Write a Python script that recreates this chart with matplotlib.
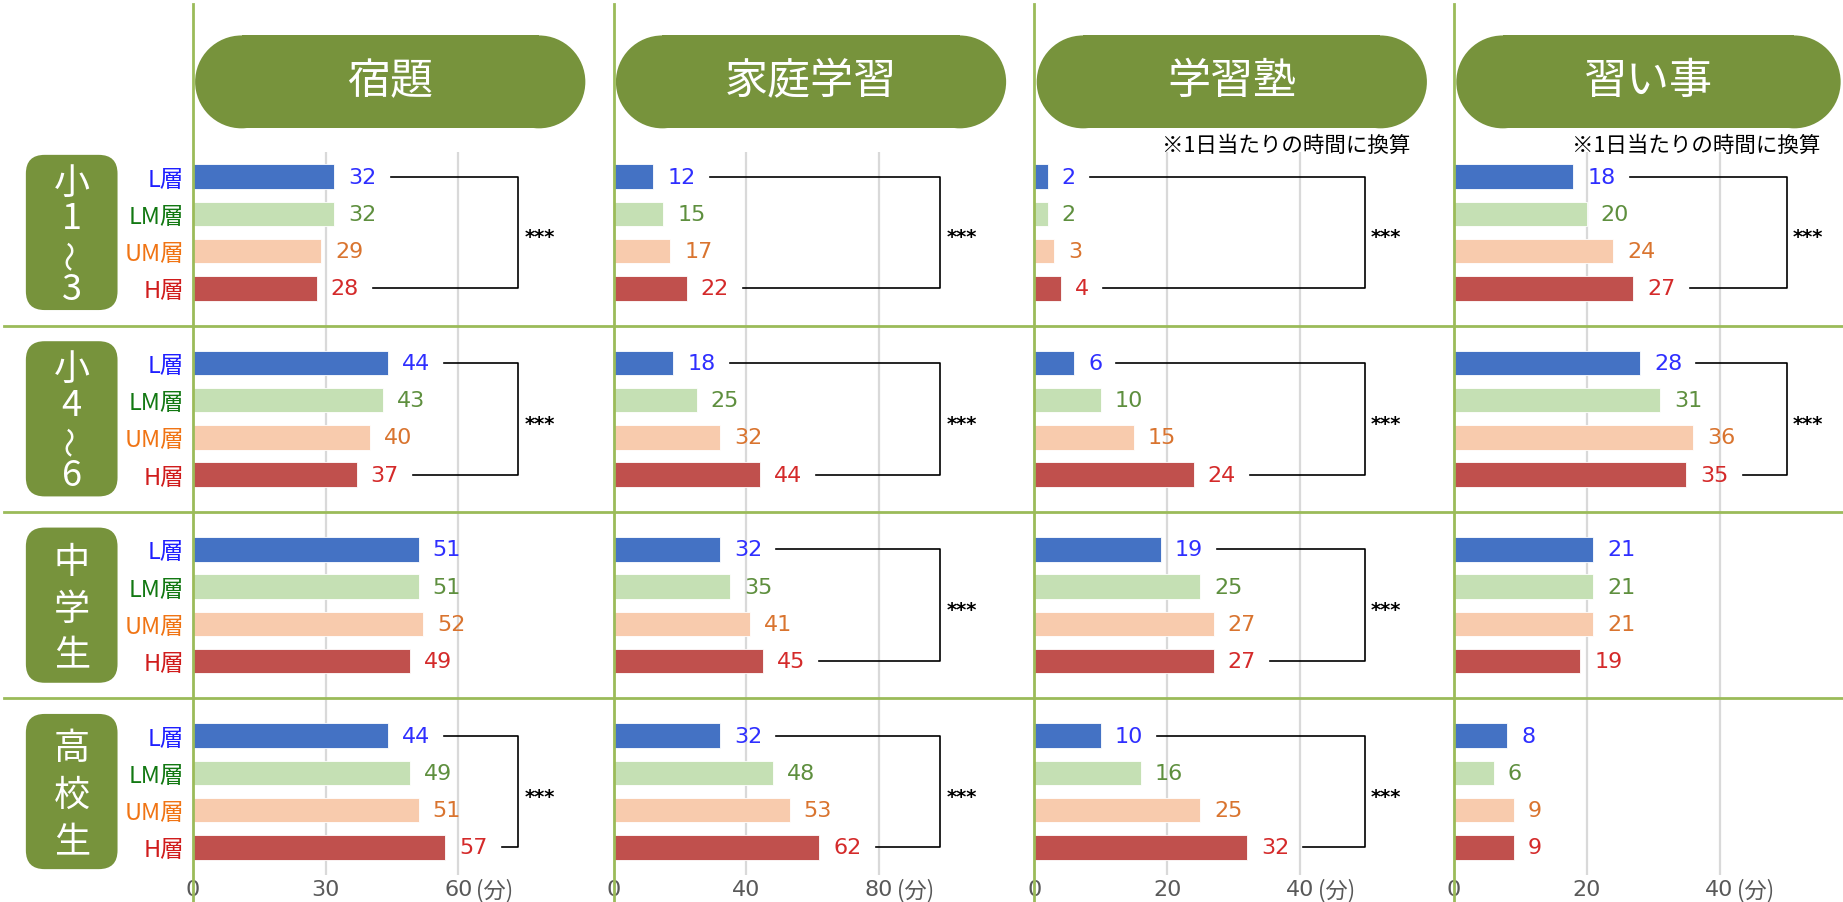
import matplotlib
matplotlib.use("Agg")
import matplotlib.pyplot as plt
from matplotlib.patches import FancyBboxPatch, Rectangle, Circle

plt.rcParams["font.family"] = ["Noto Sans CJK JP", "DejaVu Sans"]
NUM_FONT = ["DejaVu Sans"]

# ---- data ----
activities = ["宿題", "家庭学習", "学習塾", "習い事"]
grades = ["小1~3", "小4~6", "中学生", "高校生"]
layers = ["L層", "LM層", "UM層", "H層"]

homework = [[32, 32, 29, 28], [44, 43, 40, 37], [51, 51, 52, 49], [44, 49, 51, 57]]
home_study = [[12, 15, 17, 22], [18, 25, 32, 44], [32, 35, 41, 45], [32, 48, 53, 62]]
cram_school = [[2, 2, 3, 4], [6, 10, 15, 24], [19, 25, 27, 27], [10, 16, 25, 32]]
lessons = [[18, 20, 24, 27], [28, 31, 36, 35], [21, 21, 21, 19], [8, 6, 9, 9]]
values = [homework, home_study, cram_school, lessons]

# significance (***) per activity and grade
significant = [
    [True, True, False, True],
    [True, True, True, True],
    [True, True, True, True],
    [True, True, False, False],
]

tick_steps = [30, 40, 20, 20]
notes = [None, None, "※1日当たりの時間に換算", "※1日当たりの時間に換算"]

# ---- style ----
bar_colors = ["#4472C4", "#C5E0B4", "#F8CBAD", "#C0504D"]
value_colors = ["#2F2FFF", "#5E8F3E", "#D9742F", "#D42A2A"]
layer_colors = ["#1F1FFF", "#127812", "#F07414", "#D01C1C"]
pill_color = "#77933C"
line_color = "#9BBB59"
grid_color = "#D9D9D9"
tick_color = "#595959"

# layout grid (units = pixels of a 1568x768 canvas)
W, H = 1568, 768
zero_x = [164, 522, 880, 1237]
panel_w = [358, 358, 358, W - 1237]
bracket_x = [441, 800, 1161, 1520]
grid_px = 113            # pixels between gridlines
Y0, PITCH = 151, 31.7    # first bar centre, bar pitch
AX_TOP, AX_BOT = 130, 745


def row_px(r):
    return Y0 + PITCH * r


fig = plt.figure(figsize=(18.43, 9.03), dpi=100)

for p, act in enumerate(activities):
    ax = fig.add_axes([zero_x[p] / W, 1 - AX_BOT / H,
                       panel_w[p] / W, (AX_BOT - AX_TOP) / H])
    ax.set_zorder(1)
    ax.patch.set_alpha(0)
    px_per_unit = grid_px / tick_steps[p]
    ax.set_xlim(0, panel_w[p] / px_per_unit)
    ax.set_ylim((AX_BOT - Y0) / PITCH, (AX_TOP - Y0) / PITCH)
    for s in ax.spines.values():
        s.set_visible(False)

    ticks = [0, tick_steps[p], 2 * tick_steps[p]]
    ax.set_xticks(ticks)
    ax.set_xticklabels([str(t) for t in ticks], fontsize=16, color=tick_color,
                       family=NUM_FONT)
    ax.tick_params(axis="x", length=0, pad=3)
    ax.xaxis.grid(True, color=grid_color, lw=1.6)
    ax.set_axisbelow(True)
    ax.text(ticks[-1] + 15 / px_per_unit, -0.02, "(分)", transform=ax.get_xaxis_transform(),
            ha="left", va="center", fontsize=16, color=tick_color)

    rows, vals, cols = [], [], []
    for g in range(len(grades)):
        for k in range(len(layers)):
            rows.append(5 * g + k)
            vals.append(values[p][g][k])
            cols.append(bar_colors[k])
    ax.barh(rows, vals, height=0.66, color=cols, edgecolor="white", linewidth=0.6, zorder=2)

    for r, v, k in zip(rows, vals, [i % 4 for i in range(len(rows))]):
        ax.text(v + 12 / px_per_unit, r, str(v), ha="left", va="center",
                fontsize=16, color=value_colors[k], family=NUM_FONT)

    bx = (bracket_x[p] - zero_x[p]) / px_per_unit
    for g in range(len(grades)):
        if not significant[p][g]:
            continue
        top_v, bot_v = values[p][g][0], values[p][g][3]
        x_top = top_v + (24 + 12 * len(str(top_v))) / px_per_unit
        x_bot = bot_v + (24 + 12 * len(str(bot_v))) / px_per_unit
        y_top, y_bot = 5 * g, 5 * g + 3
        ax.plot([x_top, bx, bx, x_bot], [y_top, y_top, y_bot, y_bot],
                color="black", lw=1.2, clip_on=False, zorder=3)
        ax.text(bx + 5 / px_per_unit, 5 * g + 1.62, "***", ha="left", va="center",
                fontsize=14, fontweight="bold", color="black", family=NUM_FONT)

    if p == 0:
        ax.set_yticks(rows)
        ax.set_yticklabels(layers * len(grades), fontsize=17)
        for lab, k in zip(ax.get_yticklabels(), [i % 4 for i in range(len(rows))]):
            lab.set_color(layer_colors[k])
        ax.tick_params(axis="y", length=0, pad=6)
    else:
        ax.set_yticks([])

# overlay for frame lines, pills and notes
bg = fig.add_axes([0, 0, 1, 1])
bg.set_zorder(3)
bg.patch.set_alpha(0)
bg.set_xlim(0, W)
bg.set_ylim(H, 0)
bg.axis("off")

for x in zero_x:
    bg.plot([x, x], [4, H], color=line_color, lw=2)
for g in range(1, len(grades)):
    y = row_px(5 * g - 1)
    bg.plot([3, W], [y, y], color=line_color, lw=2)


def stadium(x0, x1, y0, y1):
    r = (y1 - y0) / 2
    bg.add_patch(Rectangle((x0 + r, y0), x1 - x0 - 2 * r, y1 - y0, fc=pill_color, ec="none"))
    bg.add_patch(Circle((x0 + r, y0 + r), r, fc=pill_color, ec="none"))
    bg.add_patch(Circle((x1 - r, y0 + r), r, fc=pill_color, ec="none"))


# activity headers
for p, act in enumerate(activities):
    x0 = zero_x[p] + 2
    x1 = min(zero_x[p] + 334, W - 2)
    stadium(x0, x1, 31, 110)
    bg.text((x0 + x1) / 2, 70, act, ha="center", va="center",
            fontsize=31, color="white")
    if notes[p]:
        bg.text(zero_x[p] + 320 - (8 if p == 3 else 0), 124, notes[p],
                ha="right", va="center", fontsize=15.5, color="black")

# grade labels (vertical writing)
for g, name in enumerate(grades):
    yc = row_px(5 * g + 1.5)
    box = FancyBboxPatch((22, yc - 66), 78, 132,
                         boxstyle="round,pad=0,rounding_size=16",
                         fc=pill_color, ec="none")
    bg.add_patch(box)
    n = len(name)
    pitch = 30 if n == 4 else 40
    for i, ch in enumerate(name):
        y = yc + (i - (n - 1) / 2) * pitch + 3
        if ch == "~":
            bg.text(61, y, "〜", ha="center", va="center", fontsize=22,
                    color="white", rotation=90)
        else:
            bg.text(61, y, ch, ha="center", va="center", fontsize=26, color="white")

fig.savefig("out.png", dpi=100)
